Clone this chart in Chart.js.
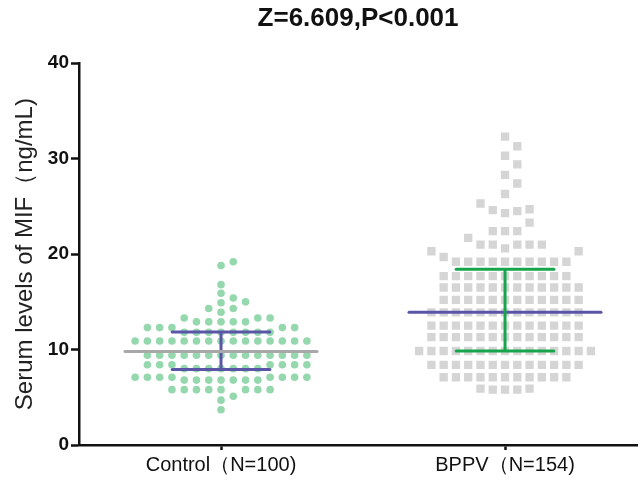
<!DOCTYPE html>
<html>
<head>
<meta charset="utf-8">
<script src="https://cdn.jsdelivr.net/npm/chart.js@4/dist/chart.umd.min.js"></script>
<style>
  html, body { margin: 0; padding: 0; background: #fff; }
  #wrap { width: 643px; height: 480px; }
</style>
</head>
<body>
<div id="wrap"><canvas id="chart" width="643" height="480"></canvas></div>
<script>
// ── Data ──────────────────────────────────────────────────────
const categories   = ['Control（N=100)', 'BPPV（N=154)'];
const titleText    = 'Z=6.609,P<0.001';
const yTicks       = [0, 10, 20, 30, 40];

// MIF, ng/mL — one value per subject
const controlValues = [
  3.7, 4.7, 5.1,
  5.8, 5.8, 5.8, 5.8, 5.8, 5.8, 5.8, 5.8,
  6.8, 6.8, 6.8, 6.8, 6.8, 6.8, 6.8,
  7.1, 7.1, 7.1, 7.1, 7.1, 7.1, 7.1, 7.1,
  8.0, 8.0, 8.0, 8.0, 8.0, 8.0, 8.0,
  8.4, 8.4, 8.4, 8.4, 8.4, 8.4, 8.4,
  9.4, 9.4, 9.4, 9.4, 9.4, 9.4, 9.4, 9.4, 9.4, 9.4, 9.4, 9.4, 9.4, 9.4,
  10.9, 10.9, 10.9, 10.9, 10.9, 10.9, 10.9, 10.9, 10.9, 10.9, 10.9, 10.9, 10.9, 10.9, 10.9,
  11.8, 11.8, 11.8, 11.8, 11.8, 11.8, 11.8, 11.8,
  12.3, 12.3, 12.3, 12.3, 12.3,
  12.9, 12.9, 12.9, 12.9, 12.9,
  13.3, 13.3, 13.3, 13.9, 14.3, 14.3, 14.9, 15.0, 15.4, 15.9, 16.8, 18.8, 19.2,
];

const bppvValues = [
  5.8, 5.8, 5.8, 5.9, 5.9,
  7.1, 7.1, 7.1, 7.1, 7.1, 7.1, 7.1, 7.1, 7.1, 7.1, 7.1,
  8.4, 8.4, 8.4, 8.4, 8.4, 8.4, 8.4, 8.4, 8.4, 8.4, 8.4, 8.4, 8.4,
  9.85, 9.85, 9.85, 9.85, 9.85, 9.85, 9.85, 9.85, 9.85, 9.85, 9.85, 9.85, 9.85, 9.85, 9.85,
  11.3, 11.3, 11.3, 11.3, 11.3, 11.3, 11.3, 11.3, 11.3, 11.3, 11.3, 11.3, 11.3,
  12.5, 12.5, 12.5, 12.5, 12.5, 12.5, 12.5, 12.5, 12.5, 12.5, 12.5, 12.5, 12.5,
  13.9, 13.9, 13.9, 13.9, 13.9, 13.9, 13.9, 13.9, 13.9, 13.9, 13.9, 13.9, 13.9,
  15.2, 15.2, 15.2, 15.2, 15.2, 15.2, 15.2, 15.2, 15.2, 15.2, 15.2, 15.2,
  16.5, 16.5, 16.5, 16.5, 16.5, 16.5, 16.5, 16.5, 16.5, 16.5, 16.5, 16.5,
  17.7, 17.7, 17.7, 17.7, 17.7, 17.7, 17.7, 17.7, 17.7, 17.7, 17.7,
  19.2, 19.2, 19.2, 19.2, 19.2, 19.2, 19.2, 19.2, 19.2, 19.2,
  19.7, 20.3, 20.3, 20.6, 21.0, 21.0, 21.0, 21.0, 21.0, 21.7,
  22.4, 22.4, 22.4, 23.3, 24.3, 24.5, 24.6, 24.7, 25.3,
  26.3, 27.4, 28.3, 29.4, 30.3, 31.3, 32.3,
];

// median and interquartile range per group
const medians   = [9.8, 13.9];
const quartile1 = [7.9, 9.85];
const quartile3 = [11.85, 18.4];

// ── Styling ───────────────────────────────────────────────────
const FONT     = "Arial, 'Liberation Sans', sans-serif";
const COL_GAP  = 0.0432;  // x-units between swarm columns
const MED_HALF = 0.338;
const IQR_HALF = 0.172;

const colors = {
  control: '#95d8ae',
  bppv:    '#d5d5d6',
  purple:  '#5b55a8',
  gray:    '#a8a8a8',
  green:   '#17a54b',
};

// ── Column beeswarm: each point goes to the nearest free column ─
// minDy = smallest value gap allowed between two marks in one column
function swarm(values, center, minDy) {
  const cols = new Map();
  const out  = [];
  values.slice().sort((a, b) => a - b).forEach(v => {
    for (let k = 0; ; k++) {
      const c = k === 0 ? 0 : (k % 2 ? (k + 1) / 2 : -k / 2);
      const list = cols.get(c) || [];
      if (list.every(w => Math.abs(w - v) >= minDy)) {
        list.push(v);
        cols.set(c, list);
        out.push({ x: center + c * COL_GAP, y: v });
        break;
      }
    }
  });
  return out;
}

function hLine(center, half, y, color) {
  return {
    type: 'line', data: [{ x: center - half, y }, { x: center + half, y }],
    borderColor: color, borderWidth: 3, pointRadius: 0, showLine: true,
    borderCapStyle: 'round', order: 0,
  };
}
function vLine(center, y0, y1, color) {
  return {
    type: 'line', data: [{ x: center, y: y0 }, { x: center, y: y1 }],
    borderColor: color, borderWidth: 3, pointRadius: 0, showLine: true, order: 0,
  };
}

const datasets = [
  { data: swarm(controlValues, 1, 0.85), pointStyle: 'circle', pointRadius: 3.8,
    backgroundColor: colors.control, borderWidth: 0, order: 2 },
  { data: swarm(bppvValues, 2, 1.15), pointStyle: 'rect', pointRadius: 5.9,
    backgroundColor: colors.bppv, borderWidth: 0, order: 2 },

  // Control: gray median, purple IQR
  hLine(1, MED_HALF, medians[0], colors.gray),
  vLine(1, quartile1[0], quartile3[0], colors.purple),
  hLine(1, IQR_HALF, quartile1[0], colors.purple),
  hLine(1, IQR_HALF, quartile3[0], colors.purple),

  // BPPV: green IQR, purple median
  vLine(2, quartile1[1], quartile3[1], colors.green),
  hLine(2, IQR_HALF, quartile1[1], colors.green),
  hLine(2, IQR_HALF, quartile3[1], colors.green),
  hLine(2, MED_HALF, medians[1], colors.purple),
];

new Chart(document.getElementById('chart'), {
  type: 'scatter',
  data: { datasets },
  options: {
    responsive: false,
    animation: false,
    devicePixelRatio: 1,
    layout: { padding: { left: 0, right: 0, top: 0, bottom: 0 } },
    plugins: {
      legend:  { display: false },
      tooltip: { enabled: false },
      title: {
        display: true, text: titleText, color: '#111', fullSize: false,
        font: { family: FONT, size: 26, weight: 'bold', lineHeight: 1.2 },
        padding: { top: 3, bottom: 29 },
      },
    },
    scales: {
      x: {
        type: 'linear', min: 0.5, max: 2.465,
        afterFit: s => { s.height = 35; },
        afterBuildTicks: s => { s.ticks = [1, 2].map(v => ({ value: v })); },
        ticks: {
          color: '#111', padding: 3, maxRotation: 0, autoSkip: false,
          font: { family: FONT, size: 20 },
          callback: v => categories[v - 1],
        },
        grid:   { drawOnChartArea: false, drawTicks: true, tickLength: 5, tickColor: '#111', tickWidth: 2.5 },
        border: { color: '#111', width: 2.5 },
      },
      y: {
        min: 0, max: 40,
        afterFit: s => { s.width = 79; },
        afterBuildTicks: s => { s.ticks = yTicks.map(v => ({ value: v })); },
        ticks: {
          color: '#111', padding: 2,
          font: { family: FONT, size: 19, weight: 'bold' },
        },
        title: {
          display: true, text: 'Serum levels of MIF（ng/mL)', color: '#222',
          font: { family: FONT, size: 24 }, padding: { top: 11, bottom: 0 },
        },
        grid:   { drawOnChartArea: false, drawTicks: true, tickLength: 8, tickColor: '#111', tickWidth: 2.5 },
        border: { color: '#111', width: 2.5 },
      },
    },
  },
});
</script>
</body>
</html>
